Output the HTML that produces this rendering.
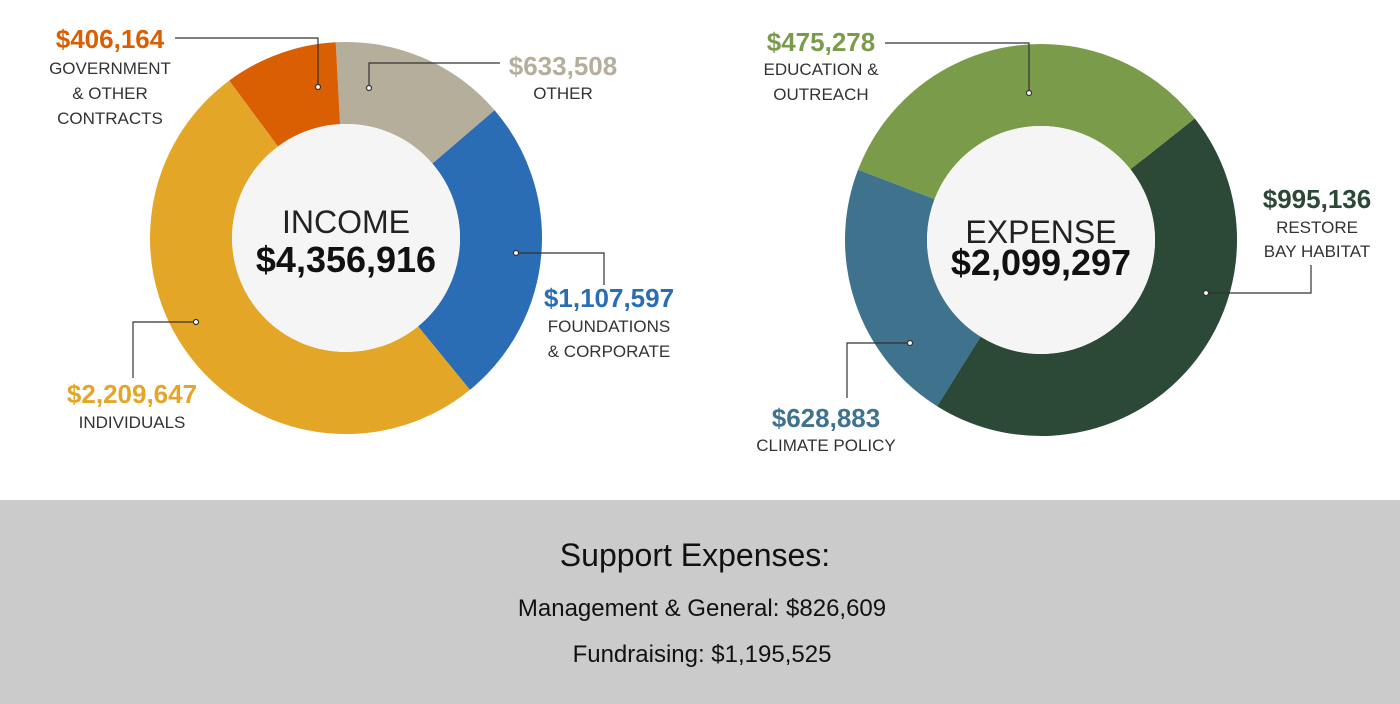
<!DOCTYPE html>
<html><head><meta charset="utf-8"><style>
html,body{margin:0;padding:0;width:1400px;height:704px;overflow:hidden;background:#fff;font-family:"Liberation Sans",sans-serif;}
svg{display:block}
</style></head><body>
<svg width="1400" height="704" viewBox="0 0 1400 704" xmlns="http://www.w3.org/2000/svg" font-family="Liberation Sans, sans-serif">
<rect x="0" y="500" width="1400" height="204" fill="#cbcbcb"/>
<g fill="none" stroke-width="82">
<circle cx="346" cy="238" r="155" pathLength="360" stroke="#b5ae9b" stroke-dasharray="52.3 400" transform="rotate(267 346 238)"/>
<circle cx="346" cy="238" r="155" pathLength="360" stroke="#2b6db5" stroke-dasharray="91.5 400" transform="rotate(-40.7 346 238)"/>
<circle cx="346" cy="238" r="155" pathLength="360" stroke="#e3a626" stroke-dasharray="182.6 400" transform="rotate(50.8 346 238)"/>
<circle cx="346" cy="238" r="155" pathLength="360" stroke="#d95f02" stroke-dasharray="33.6 400" transform="rotate(233.4 346 238)"/>
</g>
<circle cx="346" cy="238" r="114" fill="#f5f5f5"/>
<text x="346" y="233" text-anchor="middle" font-size="32" fill="#222">INCOME</text>
<text x="346" y="272" text-anchor="middle" font-size="36" font-weight="bold" fill="#111">$4,356,916</text>
<g fill="none" stroke-width="82">
<circle cx="1041" cy="240" r="155" pathLength="360" stroke="#7a9c4a" stroke-dasharray="120.7 400" transform="rotate(201 1041 240)"/>
<circle cx="1041" cy="240" r="155" pathLength="360" stroke="#2c4836" stroke-dasharray="160.3 400" transform="rotate(-38.3 1041 240)"/>
<circle cx="1041" cy="240" r="155" pathLength="360" stroke="#3f728c" stroke-dasharray="79 400" transform="rotate(122 1041 240)"/>
</g>
<circle cx="1041" cy="240" r="114" fill="#f5f5f5"/>
<text x="1041" y="243" text-anchor="middle" font-size="32" fill="#222">EXPENSE</text>
<text x="1041" y="275" text-anchor="middle" font-size="36" font-weight="bold" fill="#111">$2,099,297</text>
<g fill="none" stroke="#333" stroke-width="1.2">
<polyline points="175,38 318,38 318,87"/>
<polyline points="369,88 369,63 500,63"/>
<polyline points="516,253 604,253 604,285"/>
<polyline points="196,322 133,322 133,378"/>
<polyline points="885,43 1029,43 1029,93"/>
<polyline points="1206,293 1311,293 1311,265"/>
<polyline points="910,343 847,343 847,398"/>
</g>
<g fill="#fff" stroke="#333" stroke-width="1.2">
<circle cx="318" cy="87" r="2.5"/><circle cx="369" cy="88" r="2.5"/><circle cx="516" cy="253" r="2.5"/>
<circle cx="196" cy="322" r="2.5"/><circle cx="1029" cy="93" r="2.5"/><circle cx="1206" cy="293" r="2.5"/><circle cx="910" cy="343" r="2.5"/>
</g>
<g font-size="17" fill="#333" text-anchor="middle">
<text x="110" y="48" font-size="26" font-weight="bold" fill="#d95f02">$406,164</text>
<text x="110" y="74">GOVERNMENT</text><text x="110" y="99">&amp; OTHER</text><text x="110" y="124">CONTRACTS</text>
<text x="563" y="75" font-size="26" font-weight="bold" fill="#b5ae9b">$633,508</text>
<text x="563" y="99">OTHER</text>
<text x="609" y="307" font-size="26" font-weight="bold" fill="#2b6db5">$1,107,597</text>
<text x="609" y="332">FOUNDATIONS</text><text x="609" y="357">&amp; CORPORATE</text>
<text x="132" y="403" font-size="26" font-weight="bold" fill="#e3a626">$2,209,647</text>
<text x="132" y="428">INDIVIDUALS</text>
<text x="821" y="51" font-size="26" font-weight="bold" fill="#7a9c4a">$475,278</text>
<text x="821" y="75">EDUCATION &amp;</text><text x="821" y="100">OUTREACH</text>
<text x="1317" y="208" font-size="26" font-weight="bold" fill="#2c4836">$995,136</text>
<text x="1317" y="233">RESTORE</text><text x="1317" y="257">BAY HABITAT</text>
<text x="826" y="427" font-size="26" font-weight="bold" fill="#3f728c">$628,883</text>
<text x="826" y="451">CLIMATE POLICY</text>
</g>
<g text-anchor="middle" fill="#111">
<text x="695" y="566" font-size="32">Support Expenses:</text>
<text x="702" y="616" font-size="24">Management &amp; General: $826,609</text>
<text x="702" y="662" font-size="24">Fundraising: $1,195,525</text>
</g>
</svg>
</body></html>
